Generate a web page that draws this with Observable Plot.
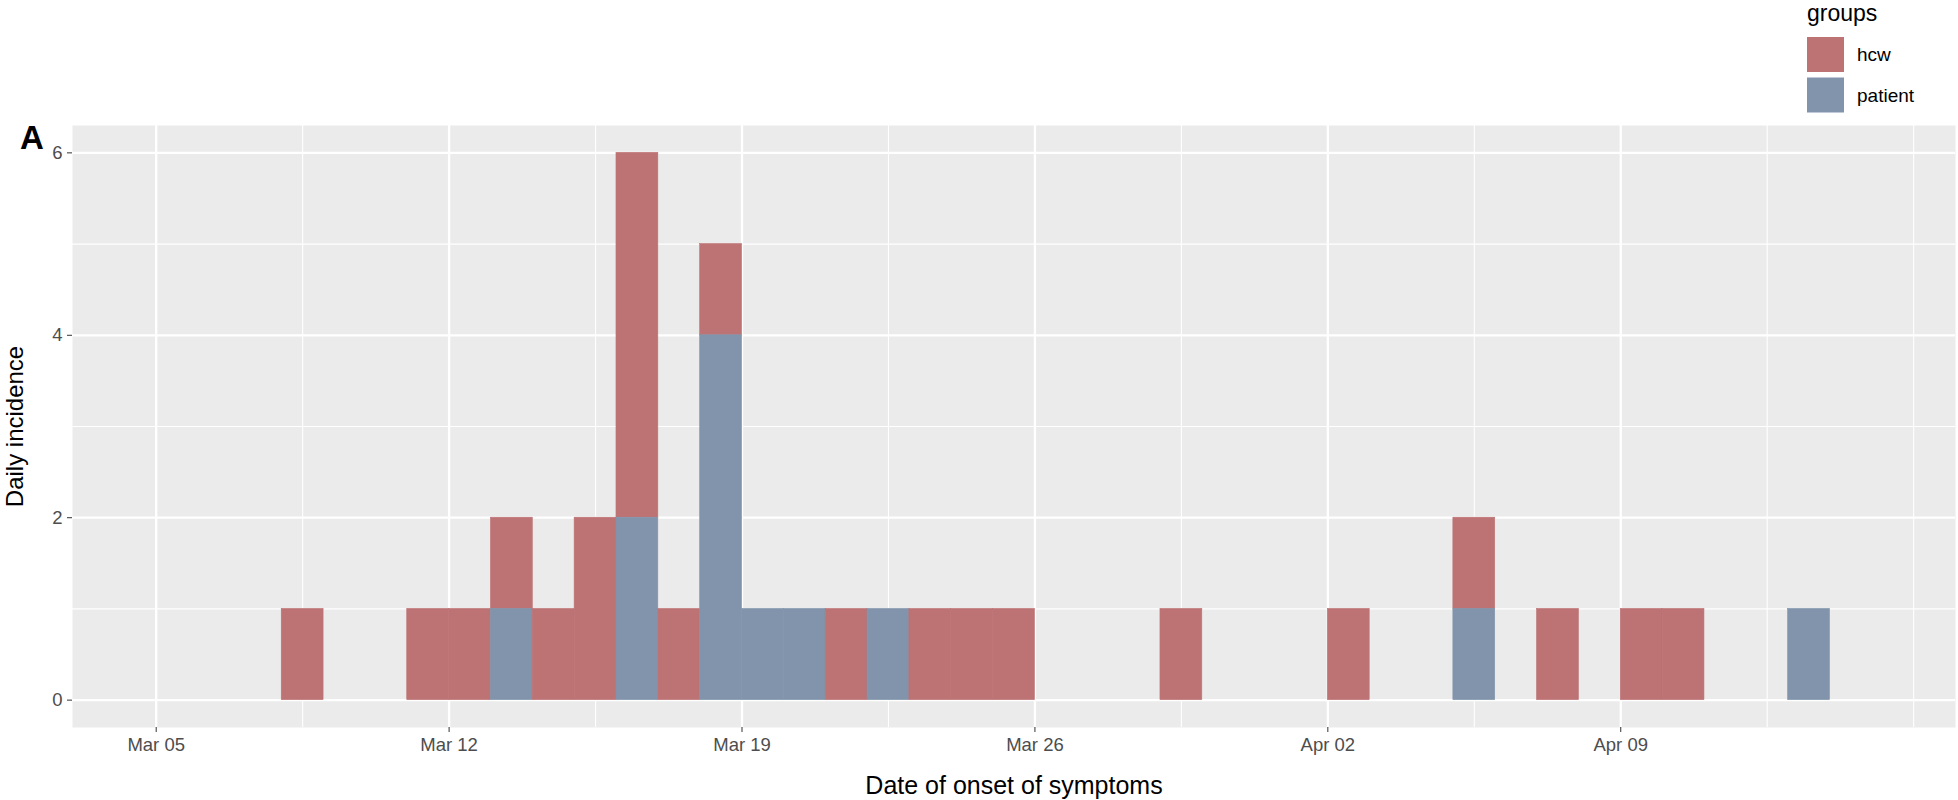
<!DOCTYPE html>
<html>
<head>
<meta charset="utf-8">
<script src="https://cdn.jsdelivr.net/npm/d3@7"></script>
<script src="https://cdn.jsdelivr.net/npm/@observablehq/plot@0.6"></script>
<style>
  html, body { margin: 0; padding: 0; background: #ffffff; }
  #wrap { position: relative; width: 1958px; height: 800px; font-family: "Liberation Sans", Arial, sans-serif; }
  #wrap svg.plot { font-family: "Liberation Sans", Arial, sans-serif; }
  [aria-label="x-axis tick label"], [aria-label="y-axis tick label"] { fill: #4d4d4d; }
  [aria-label="x-axis tick"], [aria-label="y-axis tick"] { stroke: #333333; }
  [aria-label="x-axis label"] { fill: #000000; font-size: 25px; }
  [aria-label="y-axis label"] { fill: #000000; font-size: 24px; }
  #legend { position: absolute; left: 0; top: 0; }
</style>
</head>
<body>
<div id="wrap"></div>
<script>
// ---- data ----
const onsetDates = ["2020-03-08","2020-03-11","2020-03-12","2020-03-13","2020-03-14","2020-03-15",
  "2020-03-16","2020-03-17","2020-03-18","2020-03-19","2020-03-20","2020-03-21","2020-03-22",
  "2020-03-23","2020-03-24","2020-03-25","2020-03-29","2020-04-02","2020-04-05","2020-04-07",
  "2020-04-09","2020-04-10","2020-04-13"];
const hcwCounts     = [1,1,1,1,1,2,4,1,1,0,0,1,0,1,1,1,1,1,1,1,1,1,0];
const patientCounts = [0,0,0,1,0,0,2,0,4,1,1,0,1,0,0,0,0,0,1,0,0,0,1];
const groups = ["hcw", "patient"];
const groupColors = ["#bd7274", "#8194ab"];
const xMajorTicks = ["2020-03-05","2020-03-12","2020-03-19","2020-03-26","2020-04-02","2020-04-09"];
const xMinorTicks = ["2020-03-08T12:00Z","2020-03-15T12:00Z","2020-03-22T12:00Z","2020-03-29T12:00Z","2020-04-05T12:00Z","2020-04-12T12:00Z","2020-04-16"];
const yMajorTicks = [0, 2, 4, 6];
const yMinorTicks = [1, 3, 5];
const xDomain = ["2020-03-03", "2020-04-17"];
const yDomain = [-0.3, 6.3];
const xTitle = "Date of onset of symptoms";
const yTitle = "Daily incidence";
const legendTitle = "groups";
const panelTag = "A";

// ---- build ----
const rows = [];
onsetDates.forEach((d, i) => {
  const date = new Date(d);
  if (hcwCounts[i] > 0) rows.push({date, group: "hcw", n: hcwCounts[i]});
  if (patientCounts[i] > 0) rows.push({date, group: "patient", n: patientCounts[i]});
});
const toDate = s => new Date(s);

const chart = Plot.plot({
  width: 1958,
  height: 800,
  marginTop: 125,
  marginBottom: 73,
  marginLeft: 72,
  marginRight: 3,
  x: {type: "utc", domain: xDomain.map(toDate)},
  y: {domain: yDomain},
  color: {domain: groups, range: groupColors},
  marks: [
    Plot.frame({fill: "#ebebeb", stroke: null}),
    Plot.ruleX(xMinorTicks.map(toDate), {stroke: "#ffffff", strokeWidth: 1.1}),
    Plot.ruleY(yMinorTicks, {stroke: "#ffffff", strokeWidth: 1.1}),
    Plot.ruleX(xMajorTicks.map(toDate), {stroke: "#ffffff", strokeWidth: 2.3}),
    Plot.ruleY(yMajorTicks, {stroke: "#ffffff", strokeWidth: 2.3}),
    Plot.rectY(rows, {
      x1: "date",
      x2: d => d3.utcDay.offset(d.date, 1),
      y: "n",
      fill: "group",
      stroke: "group",
      strokeWidth: 0.6,
      order: ["patient", "hcw"]
    }),
    Plot.axisX({
      ticks: xMajorTicks.map(toDate),
      tickFormat: d3.utcFormat("%b %d"),
      tickSize: 5,
      tickPadding: 5,
      fontSize: 18.5,
      label: xTitle,
      labelAnchor: "center",
      labelOffset: 66,
      labelArrow: "none"
    }),
    Plot.axisY({
      ticks: yMajorTicks,
      tickFormat: d3.format("d"),
      tickSize: 5,
      tickPadding: 5,
      fontSize: 18.5,
      label: yTitle,
      labelAnchor: "center",
      labelOffset: 67,
      labelArrow: "none"
    })
  ]
});
chart.classList.add("plot");
document.getElementById("wrap").appendChild(chart);

// legend + panel tag (overlay)
const leg = d3.select("#wrap").append("svg")
  .attr("id", "legend").attr("width", 1958).attr("height", 160)
  .style("pointer-events", "none")
  .style("font-family", '"Liberation Sans", Arial, sans-serif');
leg.append("text").attr("x", 1807).attr("y", 21).attr("font-size", 23).attr("fill", "#000").text(legendTitle);
groups.forEach((g, i) => {
  leg.append("rect").attr("x", 1807).attr("y", 37 + i * 40.5).attr("width", 37).attr("height", 35).attr("fill", groupColors[i]);
  leg.append("text").attr("x", 1857).attr("y", 61 + i * 40.5).attr("font-size", 19).attr("fill", "#000").text(g);
});
leg.append("text").attr("x", 20).attr("y", 149).attr("font-size", 33).attr("font-weight", "bold").attr("fill", "#000").text(panelTag);
</script>
</body>
</html>
